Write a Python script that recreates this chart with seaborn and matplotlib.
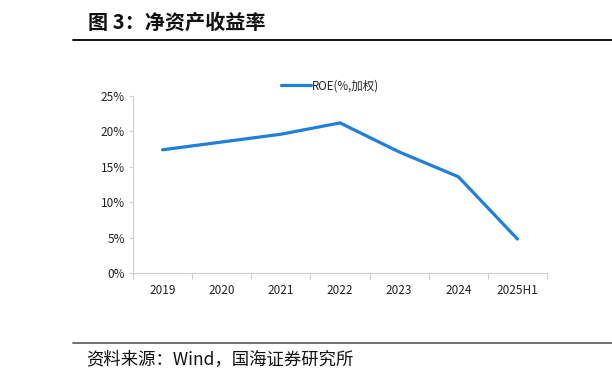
import seaborn as sns
from matplotlib import pyplot as plt
from matplotlib.lines import Line2D
from matplotlib.ticker import PercentFormatter, FixedLocator
import pandas as pd

years = ["2019", "2020", "2021", "2022", "2023", "2024", "2025H1"]
roe = [17.4, 18.5, 19.6, 21.2, 17.1, 13.6, 4.8]
series_name = "ROE(%,加权)"
title = "图 3：净资产收益率"
source = "资料来源：Wind，国海证券研究所"

sns.set_style("white")
plt.rcParams['font.family'] = ['Noto Sans CJK SC', 'DejaVu Sans']

W, H = 612, 382
fig = plt.figure(figsize=(W / 100, H / 100), dpi=100)


def fx(px):
    return px / W


def fy(py):
    return 1 - py / H


ax = fig.add_axes([fx(133), fy(273), fx(547) - fx(133), fy(96) - fy(273)])

movies = pd.DataFrame({"year": years, "roe": roe})
sns.lineplot(data=movies, x="year", y="roe", sort=False, ax=ax,
             color="#1F7FD9", linewidth=2.3, label=series_name)

ax.set_xlim(-0.5, len(years) - 0.5)
ax.set_ylim(0, 25)
ax.set_yticks([0, 5, 10, 15, 20, 25])
ax.yaxis.set_major_formatter(PercentFormatter(decimals=0))
ax.set_xlabel("")
ax.set_ylabel("")

# tick marks at category boundaries
ax.xaxis.set_minor_locator(FixedLocator([i - 0.5 for i in range(len(years) + 1)]))
ax.tick_params(axis="x", which="major", length=0, pad=8, labelsize=8.5, colors="#222222")
ax.tick_params(axis="x", which="minor", length=4, width=0.8, color="#D0D0D0", bottom=True)
ax.tick_params(axis="y", which="major", length=3, width=0.8, color="#D0D0D0",
               labelsize=8.5, labelcolor="#222222", left=True, pad=3)

for side in ["top", "right"]:
    ax.spines[side].set_visible(False)
for side in ["left", "bottom"]:
    ax.spines[side].set_color("#D0D0D0")
    ax.spines[side].set_linewidth(0.8)

ax.legend(loc="center", bbox_to_anchor=(fx(330), fy(86)),
          bbox_transform=fig.transFigure, frameon=False,
          fontsize=8.3, handlelength=2.6, handletextpad=0.1)

fig.text(fx(88), fy(22), title, fontsize=14.5, fontweight="bold",
         va="center", ha="left", color="#111111")
fig.add_artist(Line2D([fx(73), 1], [fy(40), fy(40)], color="black", linewidth=1.3))
fig.add_artist(Line2D([fx(73), 1], [fy(343), fy(343)], color="#666666", linewidth=1.3))
fig.text(fx(86), fy(359), source, fontsize=12.5, va="center", ha="left", color="#111111")

fig.savefig("out.png", dpi=100)
